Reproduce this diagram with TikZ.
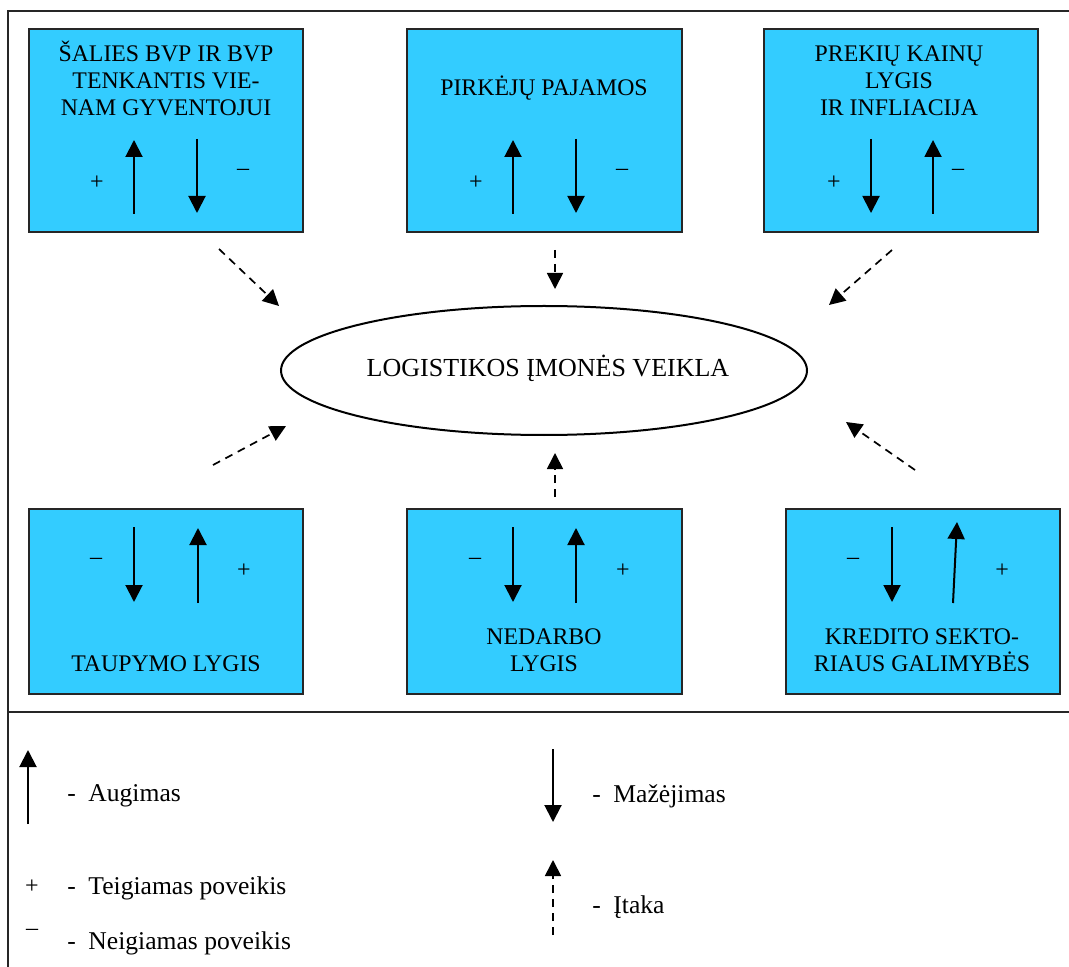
\documentclass[tikz,border=0pt]{standalone}
\usepackage{fontspec}
\setmainfont{Liberation Serif}
\usetikzlibrary{arrows.meta,shapes.geometric}
\definecolor{boxcyan}{HTML}{33CCFF}
\begin{document}
\begin{tikzpicture}[x=0.5pt,y=-0.5pt,
  frame/.style={line width=1pt, black!85},
  box/.style={draw=black!85, line width=1pt, fill=boxcyan, inner sep=0pt},
  boxtext/.style={font=\fontsize{11.9}{13.5}\selectfont, align=center, anchor=base, inner sep=0pt},
  sign/.style={font=\fontsize{12}{14}\selectfont, inner sep=0pt, anchor=center},
  solidarrow/.style={line width=1pt, -{Triangle[length=8.5pt,width=8.5pt]}},
  infl/.style={line width=0.85pt, dash pattern=on 4pt off 3pt, -{Triangle[length=8pt,width=8pt]}},
  legtext/.style={font=\fontsize{12.8}{15}\selectfont, inner sep=0pt, anchor=base west}
]
\useasboundingbox (0,0) rectangle (1069,967);
% frame
\draw[frame] (1069,11) -- (8,11) -- (8,967);
\draw[frame] (8,712) -- (1069,712);

% boxes
\node[box, minimum width=137pt, minimum height=101.5pt] (b1) at (166,130.5) {};
\node[box, minimum width=137.5pt, minimum height=101.5pt] (b2) at (544.5,130.5) {};
\node[box, minimum width=137pt, minimum height=101.5pt] (b3) at (901,130.5) {};
\node[box, minimum width=137pt, minimum height=92.5pt] (b4) at (166,601.5) {};
\node[box, minimum width=137.5pt, minimum height=92.5pt] (b5) at (544.5,601.5) {};
\node[box, minimum width=137pt, minimum height=92.5pt] (b6) at (923,601.5) {};

% box texts (anchor=base is the baseline of the last line)
\node[boxtext] (t1) at (166,116) {ŠALIES BVP IR BVP\\TENKANTIS VIE-\\NAM GYVENTOJUI};
\node[boxtext] (t2) at (544,96) {PIRKĖJŲ PAJAMOS};
\node[boxtext] (t3) at (899,116) {PREKIŲ KAINŲ\\LYGIS\\IR INFLIACIJA};
\node[boxtext] (t4) at (166,671) {TAUPYMO LYGIS};
\node[boxtext] (t5) at (544,671) {NEDARBO\\LYGIS};
\node[boxtext] (t6) at (922,671) {KREDITO SEKTO-\\RIAUS GALIMYBĖS};

% ellipse
\node[draw, ellipse, line width=1pt, minimum width=263pt, minimum height=64.5pt, inner sep=0pt] (e) at (544,370.5) {};
\node[font=\fontsize{13}{15}\selectfont, anchor=base, inner sep=0pt] (et) at (548,377) {LOGISTIKOS ĮMONĖS VEIKLA};

% arrows inside boxes
\draw[solidarrow] (134,214) -- (134,140);
\draw[solidarrow] (197,139) -- (197,213);
\draw[solidarrow] (513,214) -- (513,140);
\draw[solidarrow] (576,139) -- (576,213);
\draw[solidarrow] (871,139) -- (871,213);
\draw[solidarrow] (933,214) -- (933,140);
\draw[solidarrow] (134,527) -- (134,602);
\draw[solidarrow] (198,603) -- (198,528);
\draw[solidarrow] (513,527) -- (513,602);
\draw[solidarrow] (576,603) -- (576,528);
\draw[solidarrow] (892,527) -- (892,602);
\draw[solidarrow] (953,603) -- (957,522);

% signs
\node[sign] (p1) at (97,183) {+};
\node[sign] (m1) at (243,172) {–};
\node[sign] (p2) at (476,183) {+};
\node[sign] (m2) at (622,172) {–};
\node[sign] (p3) at (834,183) {+};
\node[sign] (m3) at (958,172) {–};
\node[sign] (m4) at (96,561) {–};
\node[sign] (p4) at (244,571) {+};
\node[sign] (m5) at (475,561) {–};
\node[sign] (p5) at (623,571) {+};
\node[sign] (m6) at (853,561) {–};
\node[sign] (p6) at (1002,571) {+};

% influence arrows
\coordinate (s1) at (219,249); \coordinate (e1) at (279,306);
\coordinate (s2) at (555,250); \coordinate (e2) at (555,289);
\coordinate (s3) at (892,250); \coordinate (e3) at (829,305);
\coordinate (s4) at (213,465); \coordinate (e4) at (286,426);
\coordinate (s5) at (555,497); \coordinate (e5) at (555,453);
\coordinate (s6) at (915,470); \coordinate (e6) at (846,422);
\draw[infl] (s1) -- (e1);
\draw[infl] (s2) -- (e2);
\draw[infl] (s3) -- (e3);
\draw[infl] (s4) -- (e4);
\draw[infl] (s5) -- (e5);
\draw[infl] (s6) -- (e6);

% legend
\draw[solidarrow] (28,824) -- (28,750);
\node[legtext] (l1d) at (67,801) {-};
\node[legtext] (l1) at (88,801) {Augimas};
\draw[solidarrow] (553,749) -- (553,822);
\node[legtext] (l2d) at (592,802) {-};
\node[legtext] (l2) at (613,802) {Mažėjimas};
\draw[infl] (553,935) -- (553,860);
\node[legtext] (l3d) at (592,913) {-};
\node[legtext] (l3) at (613,913) {Įtaka};
\node[sign] (lp) at (32,887) {+};
\node[legtext] (l4d) at (67,894) {-};
\node[legtext] (l4) at (88,894) {Teigiamas poveikis};
\node[sign] (lm) at (32,932) {–};
\node[legtext] (l5d) at (67,949) {-};
\node[legtext] (l5) at (88,949) {Neigiamas poveikis};
\end{tikzpicture}
\end{document}
